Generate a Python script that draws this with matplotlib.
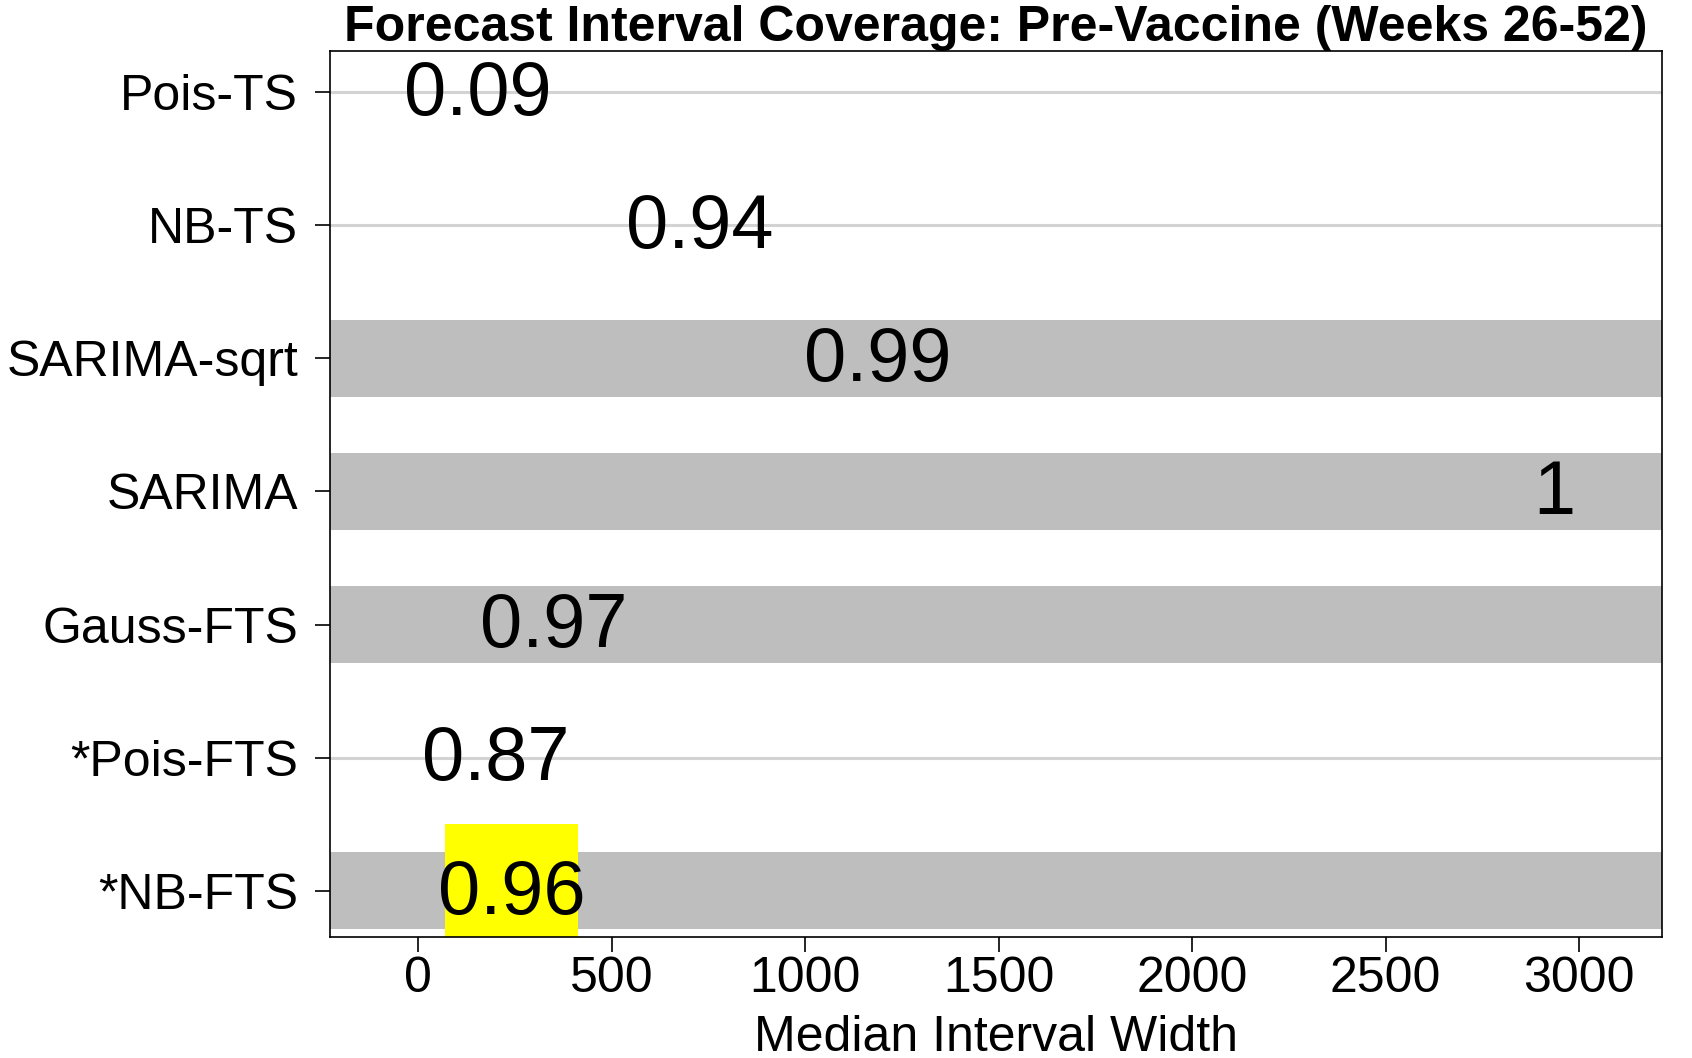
import numpy as np
import matplotlib
matplotlib.use('Agg')
import matplotlib.pyplot as plt
from matplotlib.patches import Rectangle

# data (top to bottom)
models = ['Pois-TS', 'NB-TS', 'SARIMA-sqrt', 'SARIMA', 'Gauss-FTS', '*Pois-FTS', '*NB-FTS']
median_width = [153, 727, 1187, 2936, 351, 200, 242]
coverage = ['0.09', '0.94', '0.99', '1', '0.97', '0.87', '0.96']
shaded = [False, False, True, True, True, False, True]
highlight = '*NB-FTS'
xticks = [0, 500, 1000, 1500, 2000, 2500, 3000]

plt.rcParams['font.family'] = ['Liberation Sans', 'DejaVu Sans']

fig = plt.figure(figsize=(16.92, 10.58), dpi=100)
ax = fig.add_axes((0.195, 0.114, 0.787, 0.838))

n = len(models)
ypos = n - 1 - np.arange(n)

for y, name, w, cov, sh in zip(ypos, models, median_width, coverage, shaded):
    if sh:
        ax.axhspan(y - 0.29, y + 0.29, color='#bebebe', lw=0, zorder=1)
    else:
        ax.axhline(y, color='#d3d3d3', lw=2.2, zorder=1)
    if name == highlight:
        # yellow highlight behind the best model
        ax.add_patch(Rectangle((w - 172, -0.4), 344, 0.9, facecolor='#ffff00',
                               edgecolor='none', zorder=2))
    ax.text(w, y - 0.025, cov, ha='center', va='center', fontsize=54.5, zorder=3)

ax.set_xlim(-228, 3213)
ax.set_ylim(-0.35, 6.31)
ax.set_yticks(ypos)
ax.set_yticklabels(models)
ax.set_xticks(xticks)
ax.tick_params(axis='both', labelsize=36, length=11, width=1.2)
ax.tick_params(axis='y', pad=12)
ax.tick_params(axis='x', pad=2.5)
for s in ax.spines.values():
    s.set_linewidth(1.2)

ax.set_xlabel('Median Interval Width', fontsize=36, labelpad=9)
ax.set_title('Forecast Interval Coverage: Pre-Vaccine (Weeks 26-52)',
             fontsize=36, fontweight='bold', pad=4)

fig.savefig('out.png', dpi=100)
